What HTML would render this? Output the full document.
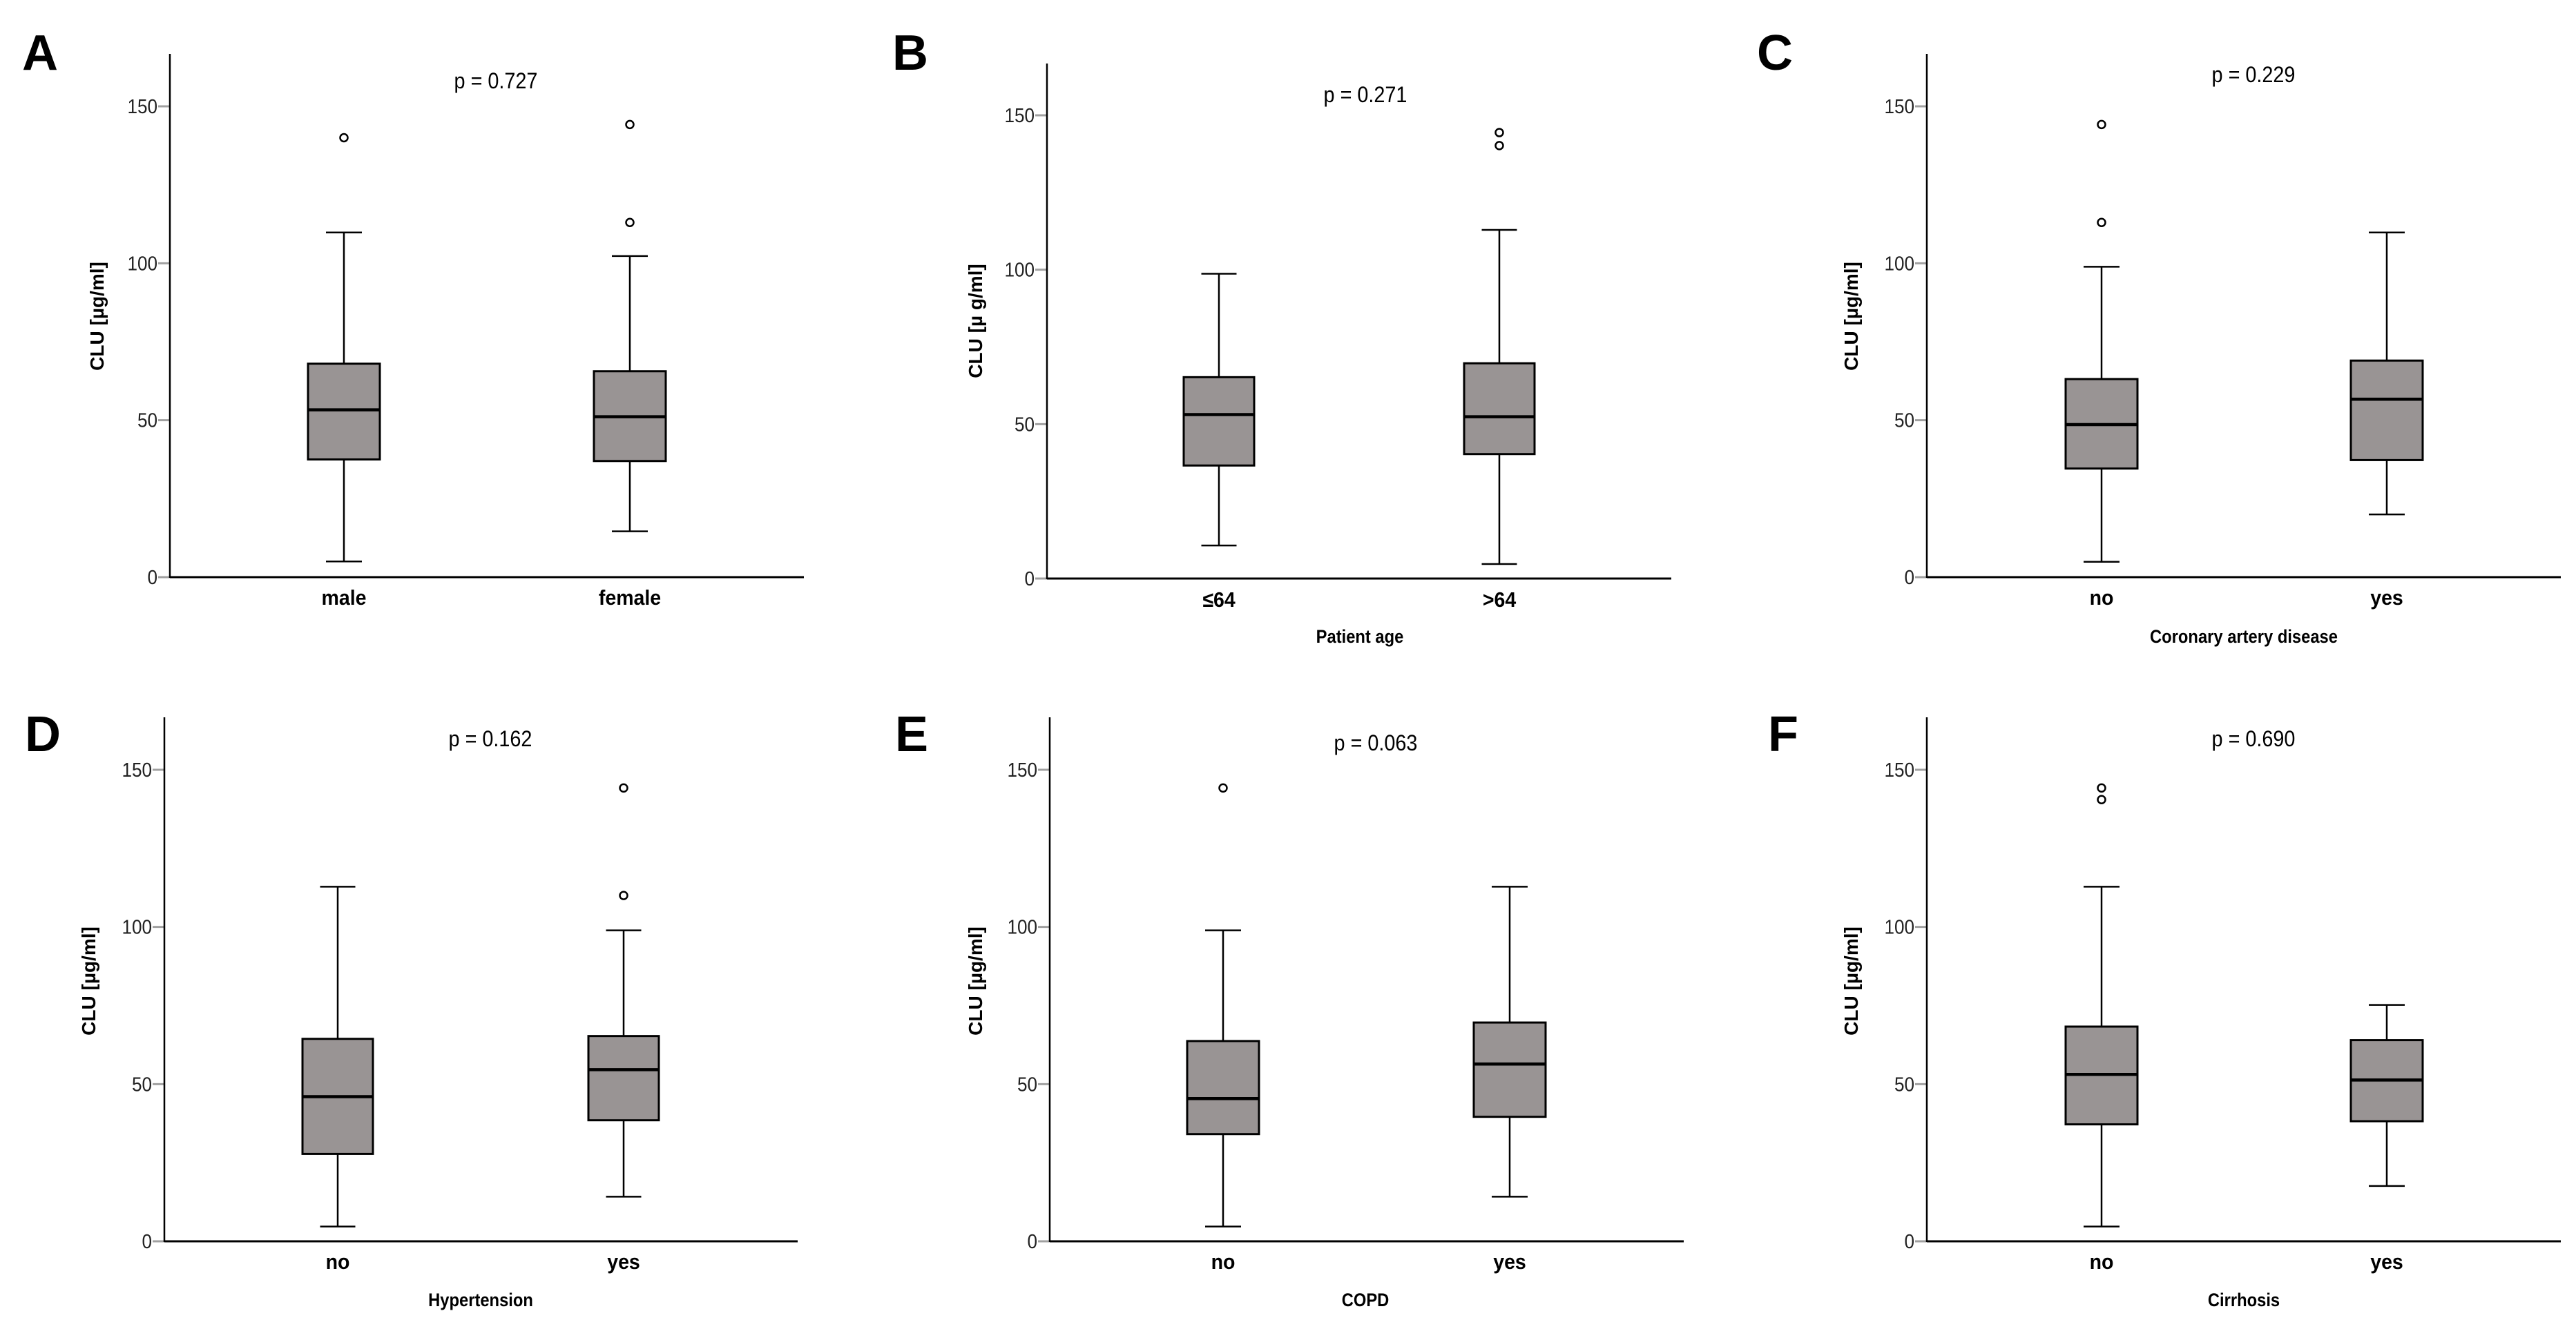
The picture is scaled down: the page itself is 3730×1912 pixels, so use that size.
<!DOCTYPE html>
<html><head><meta charset="utf-8"><style>
html,body{margin:0;padding:0;background:#fff;overflow:hidden;}
svg{display:block;}
text{font-family:"Liberation Sans",Arial,sans-serif;}
</style></head><body>
<svg id="fig" width="3730" height="1912" viewBox="0 0 3730 1912" xmlns="http://www.w3.org/2000/svg"></svg>
<script>
// ---- data (CLU µg/ml) ----
const panelLetters = ["A","B","C","D","E","F"];
const pValues = ["p = 0.727","p = 0.271","p = 0.229","p = 0.162","p = 0.063","p = 0.690"];
const categoriesA = ["male","female"];
const categoriesB = ["\u226464",">64"];
const categoriesC = ["no","yes"];
const categoriesD = ["no","yes"];
const categoriesE = ["no","yes"];
const categoriesF = ["no","yes"];
const xTitles = ["","Patient age","Coronary artery disease","Hypertension","COPD","Cirrhosis"];
const yTitles = ["CLU [\u00b5g/ml]","CLU [\u00b5 g/ml]","CLU [\u00b5g/ml]","CLU [\u00b5g/ml]","CLU [\u00b5g/ml]","CLU [\u00b5g/ml]"];
const yTicks = [0,50,100,150];
// [min, q1, median, q3, max] per group
const statsA = [[5,37.5,53.3,68,109.8],[14.6,37,51.1,65.6,102.3]];
const statsB = [[10.7,36.6,53.1,65.2,98.7],[4.7,40.3,52.4,69.7,112.9]];
const statsC = [[4.9,34.6,48.6,63.1,98.9],[20,37.3,56.7,69,109.8]];
const statsD = [[4.7,27.8,46,64.4,112.8],[14.2,38.5,54.6,65.3,98.9]];
const statsE = [[4.7,34.1,45.4,63.7,98.9],[14.2,39.6,56.4,69.6,112.8]];
const statsF = [[4.7,37.2,53.1,68.3,112.8],[17.6,38.2,51.3,64,75.2]];
const outliersA = [[140],[144.2,113]];
const outliersB = [[],[144.4,140.2]];
const outliersC = [[144.2,113],[]];
const outliersD = [[],[144.2,110]];
const outliersE = [[144.2],[]];
const outliersF = [[144.2,140.5],[]];

const allCats = [categoriesA,categoriesB,categoriesC,categoriesD,categoriesE,categoriesF];
const allStats = [statsA,statsB,statsC,statsD,statsE,statsF];
const allOut = [outliersA,outliersB,outliersC,outliersD,outliersE,outliersF];

// ---- layout (pixels) ----
const layout = [
 {ax:246,top:78,y0:836,y150:154,xe:1164,c:[498,912],bw:104,px:718,py:117,cly:865,tx:0,ty:0,lx:32,ly:101,ytx:140,yty:458},
 {ax:1516,top:92,y0:838,y150:167,xe:2420,c:[1765,2171],bw:102,px:1977,py:137,cly:868,tx:1969,ty:922,lx:1292,ly:101,ytx:1412,yty:465},
 {ax:2790,top:78,y0:836,y150:154,xe:3708,c:[3043,3456],bw:104,px:3263,py:108,cly:865,tx:3249,ty:922,lx:2544,ly:101,ytx:2680,yty:458},
 {ax:238,top:1039,y0:1798,y150:1115,xe:1155,c:[489,903],bw:102,px:710,py:1070,cly:1827,tx:696,ty:1883,lx:36,ly:1088,ytx:128,yty:1421},
 {ax:1520,top:1039,y0:1798,y150:1115,xe:2438,c:[1771,2186],bw:104,px:1992,py:1076,cly:1827,tx:1977,ty:1883,lx:1296,ly:1088,ytx:1412,yty:1421},
 {ax:2790,top:1039,y0:1798,y150:1115,xe:3708,c:[3043,3456],bw:104,px:3263,py:1070,cly:1827,tx:3249,ty:1883,lx:2560,ly:1088,ytx:2680,yty:1421}
];

const NS = "http://www.w3.org/2000/svg";
const svg = document.getElementById("fig");
function mk(tag, attrs, parent){
  const e = document.createElementNS(NS, tag);
  for (const k in attrs) e.setAttribute(k, attrs[k]);
  (parent||svg).appendChild(e);
  return e;
}
function txt(parent, x, y, s, size, weight, anchor, fill, extra){
  const t = mk("text", Object.assign({x:x,y:y,"font-size":size,"font-weight":weight,"text-anchor":anchor,fill:fill}, extra||{}), parent);
  t.textContent = s;
  return t;
}

for (let p=0;p<6;p++){
  const L = layout[p];
  const g = mk("g", {});
  
  
  const yScale = v => L.y0 - v*(L.y0-L.y150)/150;

  const letter = txt(g, L.lx, L.ly, panelLetters[p], 72, "bold", "start", "#000");
  
  

  yTicks.forEach(v=>{
    const y = yScale(v);
    const tk = mk("line",{x1:L.ax-17,x2:L.ax,y1:y,y2:y,stroke:"#a0a0a0","stroke-width":3},g);
    
    
    const tl = txt(g, 0, 0, String(v), 29, "normal", "end", "#222", {transform:"translate("+(L.ax-18)+","+(y+10)+") scale(0.9,1)"});
    
    
  });

  const ya = mk("line",{x1:L.ax,x2:L.ax,y1:L.top,y2:L.y0+1,stroke:"#000","stroke-width":2.5},g);
  
  
  const xa = mk("line",{x1:L.ax,x2:L.xe,y1:L.y0,y2:L.y0,stroke:"#000","stroke-width":3},g);
  
  

  const yt = txt(g, 0, 0, yTitles[p], 28, "bold", "middle", "#000", {transform:"translate("+(L.ytx+10)+","+L.yty+") rotate(-90)"});
  
  

  const pv = txt(g, 0, 0, pValues[p], 32, "normal", "middle", "#000", {transform:"translate("+L.px+","+(L.py+11)+") scale(0.9,1)"});
  
  

  if (xTitles[p]){
    const xt = txt(g, 0, 0, xTitles[p], 27, "bold", "middle", "#000", {transform:"translate("+L.tx+","+(L.ty+9)+") scale(0.88,1)"});
    
    
  }

  const cats = allCats[p], stats = allStats[p], outs = allOut[p];
  for (let i=0;i<cats.length;i++){
    const cx = L.c[i], s = stats[i], hw = L.bw/2;
    const bg = mk("g",{},g);
    
    
    mk("line",{x1:cx,x2:cx,y1:yScale(s[4]),y2:yScale(s[3]),stroke:"#000","stroke-width":2.5},bg);
    mk("line",{x1:cx,x2:cx,y1:yScale(s[1]),y2:yScale(s[0]),stroke:"#000","stroke-width":2.5},bg);
    mk("line",{x1:cx-hw/2,x2:cx+hw/2,y1:yScale(s[4]),y2:yScale(s[4]),stroke:"#000","stroke-width":2.5},bg);
    mk("line",{x1:cx-hw/2,x2:cx+hw/2,y1:yScale(s[0]),y2:yScale(s[0]),stroke:"#000","stroke-width":2.5},bg);
    mk("rect",{x:cx-hw,y:yScale(s[3]),width:L.bw,height:yScale(s[1])-yScale(s[3]),fill:"#999494",stroke:"#000","stroke-width":3},bg);
    mk("line",{x1:cx-hw,x2:cx+hw,y1:yScale(s[2]),y2:yScale(s[2]),stroke:"#000","stroke-width":4.5},bg);
    outs[i].forEach(v=>{
      const o = mk("circle",{cx:cx,cy:yScale(v),r:5.5,fill:"#fff",stroke:"#000","stroke-width":2.5},bg);
      
      
    });
    const cl = txt(g, 0, 0, cats[i], 31, "bold", "middle", "#000", {transform:"translate("+cx+","+(L.cly+11)+") scale(0.92,1)"});
    
    
  }
}
</script>
</body></html>
